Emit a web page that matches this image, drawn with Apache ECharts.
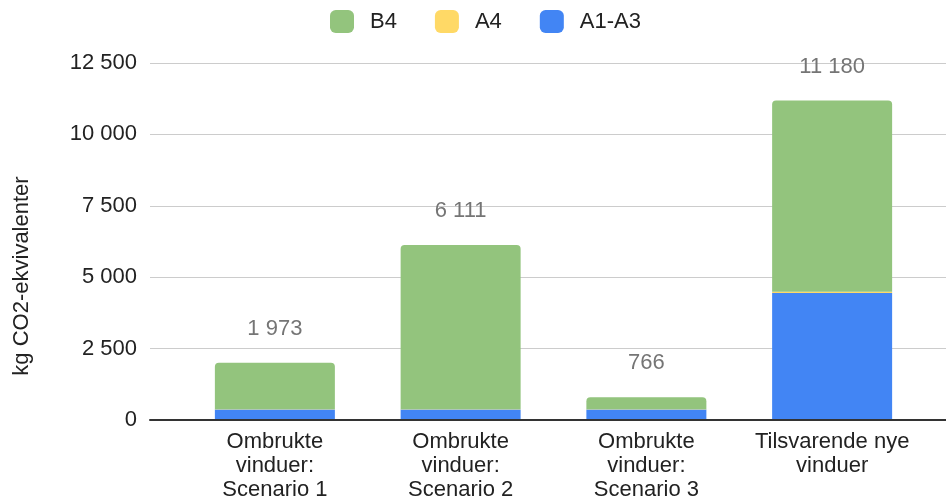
<!DOCTYPE html>
<html>
<head>
<meta charset="utf-8">
<script src="https://cdn.jsdelivr.net/npm/echarts@6/dist/echarts.min.js"></script>
<style>html,body{margin:0;padding:0;background:#fff}#c{width:946px;height:502px}</style>
</head>
<body>
<div id="c"></div>
<script>
var categories = ['Ombrukte\nvinduer:\nScenario 1', 'Ombrukte\nvinduer:\nScenario 2', 'Ombrukte\nvinduer:\nScenario 3', 'Tilsvarende nye\nvinduer'];
var a1a3 = [330, 330, 330, 4420];
var a4 = [10, 10, 10, 50];
var b4 = [1633, 5771, 426, 6710];
var yTicks = [0, 2500, 5000, 7500, 10000, 12500];

var totals = categories.map(function (_, i) { return a1a3[i] + a4[i] + b4[i]; });
function fmt(v) { return String(v).replace(/\B(?=(\d{3})+(?!\d))/g, ' '); }

var FONT = '"Liberation Sans", Arial, sans-serif';
var chart = echarts.init(document.getElementById('c'), null, { renderer: 'canvas' });
chart.setOption({
  animation: false,
  textStyle: { fontFamily: FONT },
  legend: {
    top: 5, left: 325,
    itemWidth: 24, itemHeight: 23, itemGap: 38,
    icon: 'roundRect',
    textStyle: { fontSize: 22, color: '#222', fontFamily: FONT, padding: [0, 0, 0, 11] },
    data: ['B4', 'A4', 'A1-A3']
  },
  grid: [
    { left: 150, right: 0, top: 63, bottom: 82 },
    { left: 182, right: 21, top: 63, bottom: 82 }
  ],
  xAxis: [
    { type: 'category', gridIndex: 0, data: [''], axisLine: { show: true, lineStyle: { color: '#333', width: 2 } }, axisTick: { show: false }, axisLabel: { show: false }, splitLine: { show: false } },
    { type: 'category', gridIndex: 1, data: categories, axisLine: { show: false }, axisTick: { show: false },
      axisLabel: { margin: 11, fontSize: 22, lineHeight: 24, color: '#222', fontFamily: FONT, interval: 0 } }
  ],
  yAxis: [
    { type: 'value', gridIndex: 0, min: 0, max: 12500, interval: 2500,
      axisLine: { show: false }, axisTick: { show: false },
      axisLabel: { margin: 13, fontSize: 22, color: '#222', fontFamily: FONT, formatter: function (v) { return fmt(v); } },
      splitLine: { lineStyle: { color: '#cccccc', width: 1 } } },
    { type: 'value', gridIndex: 1, min: 0, max: 12500, interval: 2500, show: false, splitLine: { show: false } }
  ],
  graphic: [{
    type: 'text', x: 22, y: 276, rotation: Math.PI / 2,
    style: { text: 'kg CO2-ekvivalenter', fontSize: 22, fontFamily: FONT, fill: '#222', align: 'center', verticalAlign: 'middle' }
  }],
  series: [
    { name: 'A1-A3', type: 'bar', stack: 's', xAxisIndex: 1, yAxisIndex: 1, data: a1a3, barWidth: 120, itemStyle: { color: '#4285f4' } },
    { name: 'A4', type: 'bar', stack: 's', xAxisIndex: 1, yAxisIndex: 1, data: a4, barWidth: 120, itemStyle: { color: '#ffd966' } },
    { name: 'B4', type: 'bar', stack: 's', xAxisIndex: 1, yAxisIndex: 1, data: b4, barWidth: 120,
      itemStyle: { color: '#93c47d', borderRadius: [4, 4, 0, 0] },
      label: { show: true, position: 'top', distance: 23, fontSize: 22, color: '#757575', fontFamily: FONT,
        formatter: function (p) { return fmt(totals[p.dataIndex]); } } }
  ]
});
</script>
</body>
</html>
